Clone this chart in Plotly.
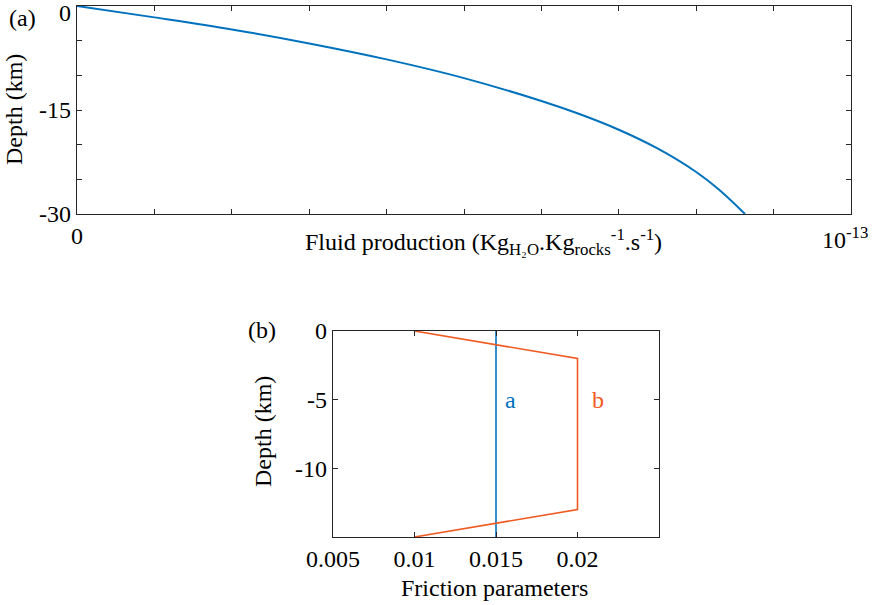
import plotly.graph_objects as go

# panel (a): fluid production profile, x in units of 1e-13
fluid_prod = [0, 0.1, 0.2, 0.3, 0.4, 0.5, 0.6, 0.65, 0.7, 0.75, 0.8, 0.83, 0.863]
fluid_depth = [0, -1.64, -3.38, -5.4, -7.7, -10.4, -13.7, -15.62, -17.85, -20.55, -23.95, -26.55, -30]

# panel (b): friction parameters
a_values = [0.015, 0.015]
a_depth = [0, -15]
b_values = [0.01, 0.02, 0.02, 0.01]
b_depth = [0, -2, -13, -15]

top_xticks = [i / 10 for i in range(11)]
top_xtext = ["0"] + [""] * 10
top_yticks = [0, -5, -10, -15, -20, -25, -30]
# the "0" label at the very top is drawn as an annotation so it isn't clipped
top_ytext = ["", "", "", "-15", "", "", "-30"]
bot_xticks = [0.005, 0.01, 0.015, 0.02, 0.025]
bot_xtext = ["0.005", "0.01", "0.015", "0.02", ""]
bot_yticks = [0, -5, -10, -15]
bot_ytext = ["0", "-5", "-10", ""]

BLUE = "#0072BD"
ORANGE = "#F25A22"
AXIS = "#262626"
FONT = "Liberation Serif"
SIZE = 24

W, H = 872, 605

fig = go.Figure()
fig.add_trace(go.Scatter(x=fluid_prod, y=fluid_depth, mode="lines", line=dict(color=BLUE, width=2, shape="spline"),
                         xaxis="x", yaxis="y", showlegend=False))
fig.add_trace(go.Scatter(x=a_values, y=a_depth, mode="lines", line=dict(color=BLUE, width=1.6),
                         xaxis="x2", yaxis="y2", showlegend=False))
fig.add_trace(go.Scatter(x=b_values, y=b_depth, mode="lines", line=dict(color=ORANGE, width=1.6),
                         xaxis="x2", yaxis="y2", showlegend=False))

axis_common = dict(showline=True, linecolor=AXIS, linewidth=1.2, mirror="ticks", ticks="inside",
                   ticklen=5, tickcolor=AXIS, showgrid=False, zeroline=False, automargin=False,
                   ticklabeloverflow="allow",
                   tickfont=dict(family=FONT, size=SIZE, color="black"))

fig.update_layout(
    width=W, height=H,
    margin=dict(l=0, r=0, t=0, b=0),
    plot_bgcolor="white", paper_bgcolor="white",
    font=dict(family=FONT, size=SIZE, color="black"),
    xaxis=dict(domain=[77 / W, 851 / W], range=[0, 1], tickvals=top_xticks, ticktext=top_xtext,
               anchor="y", **axis_common),
    yaxis=dict(domain=[1 - 214 / H, 1 - 6 / H], range=[-30, 0], tickvals=top_yticks, ticktext=top_ytext,
               anchor="x", **axis_common),
    xaxis2=dict(domain=[333 / W, 659 / W], range=[0.005, 0.025], tickvals=bot_xticks, ticktext=bot_xtext,
                anchor="y2", **axis_common),
    yaxis2=dict(domain=[1 - 537 / H, 1 - 331 / H], range=[-15, 0], tickvals=bot_yticks, ticktext=bot_ytext,
                anchor="x2", **axis_common),
)

def note(text, x, y, color="black", xref="paper", yref="paper", angle=0, xanchor="center"):
    fig.add_annotation(text=text, x=x, y=y, xref=xref, yref=yref, showarrow=False, textangle=angle,
                       font=dict(family=FONT, size=SIZE, color=color), xanchor=xanchor, yanchor="middle")

note("(a)", 22 / W, 1 - 18 / H)
note("(b)", 262 / W, 1 - 330 / H)
note("0", 73 / W, 1 - 13 / H, xanchor="right")
note("Depth (km)", 14 / W, 1 - 110 / H, angle=-90)
note("Depth (km)", 263 / W, 1 - 432 / H, angle=-90)
note("Fluid production (Kg<sub>H₂O</sub>.Kg<sub>rocks</sub><sup>-1</sup>.s<sup>-1</sup>)", 483 / W, 1 - 242 / H)
note("10<sup>-13</sup>", 845 / W, 1 - 238 / H)
note("Friction parameters", 495 / W, 1 - 588 / H)
note("a", 0.0159, -5, color=BLUE, xref="x2", yref="y2")
note("b", 0.02126, -5, color=ORANGE, xref="x2", yref="y2")

# drop the browser's default body margin so the figure sits at the window origin
fig.write_html("out.html", config={"displayModeBar": False},
               post_script="document.body.style.margin='0';")
